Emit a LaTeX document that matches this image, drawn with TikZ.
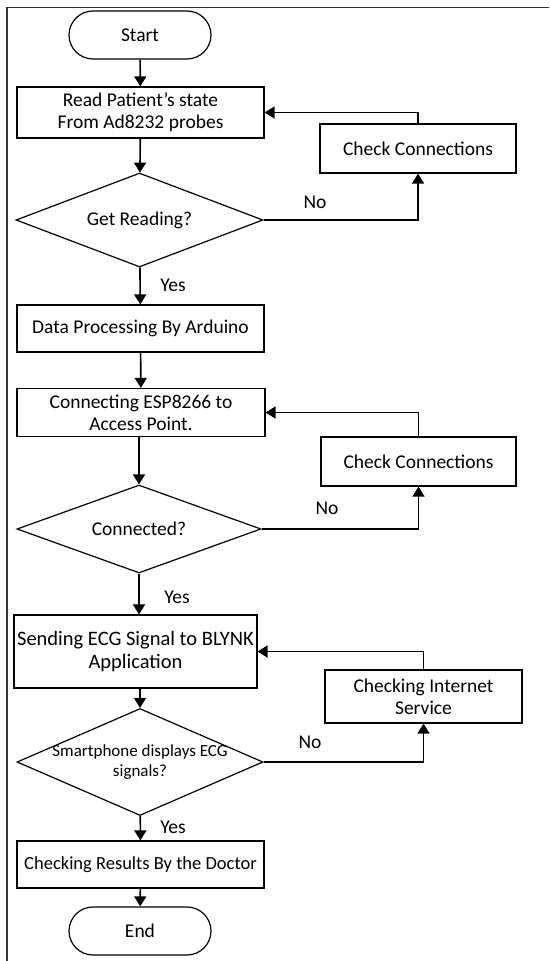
\documentclass[tikz,border=0pt]{standalone}
\usepackage{fontspec}
\setmainfont{Carlito}
\usetikzlibrary{shapes.geometric,arrows.meta}

\begin{document}
\begin{tikzpicture}[x=1pt,y=-1pt,
        font=\fontsize{19.5}{22}\selectfont,
        box/.style={draw,line width=1.2pt,fill=white,inner sep=2pt,align=center},
        term/.style={box,rounded corners=24pt,minimum width=142pt,minimum height=48pt},
        decision/.style={draw,diamond,line width=1.2pt,fill=white,inner sep=0pt},
        flow/.style={line width=1.6pt,-{Triangle[width=12pt,length=10pt]}},
    ]
    \useasboundingbox (0,0) rectangle (549,961);
    % frame
    \draw[line width=1.5pt,black!80] (7,961) -- (7,7.5) -- (549,7.5);

    \node[term] (start) at (140,35) {Start};
    \node[box,minimum width=247pt,minimum height=51pt] (read) at (140.5,112.5) {Read Patient's state\\From Ad8232 probes};
    \node[box,minimum width=196pt,minimum height=49pt] (chk1) at (418,148.5) {Check Connections};
    \node[decision,minimum width=247pt,minimum height=94pt,label={center:Get Reading?}] (getread) at (139.5,220) {};
    \node[box,minimum width=247pt,minimum height=47pt] (data) at (140.5,328.5) {Data Processing By Arduino};
    \node[box,minimum width=248pt,minimum height=48pt] (conn) at (141,412.5) {Connecting ESP8266 to\\Access Point.};
    \node[box,minimum width=195pt,minimum height=49pt] (chk2) at (418.5,461.5) {Check Connections};
    \node[decision,minimum width=244pt,minimum height=88pt,label={center:Connected?}] (connd) at (139,529) {};
    \node[box,minimum width=243pt,minimum height=73pt,font=\fontsize{20.5}{23}\selectfont] (send) at (135.5,651.5) {Sending ECG Signal to BLYNK\\Application};
    \node[box,minimum width=197pt,minimum height=53pt] (inet) at (423.5,696.5) {Checking Internet\\Service};
    \node[decision,minimum width=246pt,minimum height=107pt,label={[align=center,font=\fontsize{17}{20}\selectfont]center:Smartphone displays ECG\\signals?}] (disp) at (140,762) {};
    \node[box,minimum width=247pt,minimum height=47pt,font=\fontsize{18.5}{22}\selectfont] (doc) at (140.5,864.5) {Checking Results By the Doctor};
    \node[term] (end) at (140,931) {End};

    % branch labels
    \node (no1) at (315,202) {No};
    \node (yes1) at (173,285) {Yes};
    \node (no2) at (327,508) {No};
    \node (yes2) at (177,597) {Yes};
    \node (no3) at (310,742) {No};
    \node (yes3) at (173,827) {Yes};

    % main line
    \draw[flow] (start) -- (read);
    \draw[flow] (read) -- (getread);
    \draw[flow] (getread) -- (data);
    \draw[flow] (data) -- (conn);
    \draw[flow] (conn.south -| connd.north) -- (connd.north);
    \draw[flow] (connd.south) -- (connd.south |- send.north);
    \draw[flow] (send.south -| disp.north) -- (disp.north);
    \draw[flow] (disp) -- (doc);
    \draw[flow] (doc) -- (end);

    % loops back
    \draw[flow] (getread.east) -| (chk1.south);
    \draw[flow] (chk1.north) |- (read.east);
    \draw[flow] (connd.east) -| (chk2.south);
    \draw[flow] (chk2.north) |- (conn.east);
    \draw[flow] (disp.east) -| (inet.south);
    \draw[flow] (inet.north) |- (send.east);
\end{tikzpicture}
\end{document}
